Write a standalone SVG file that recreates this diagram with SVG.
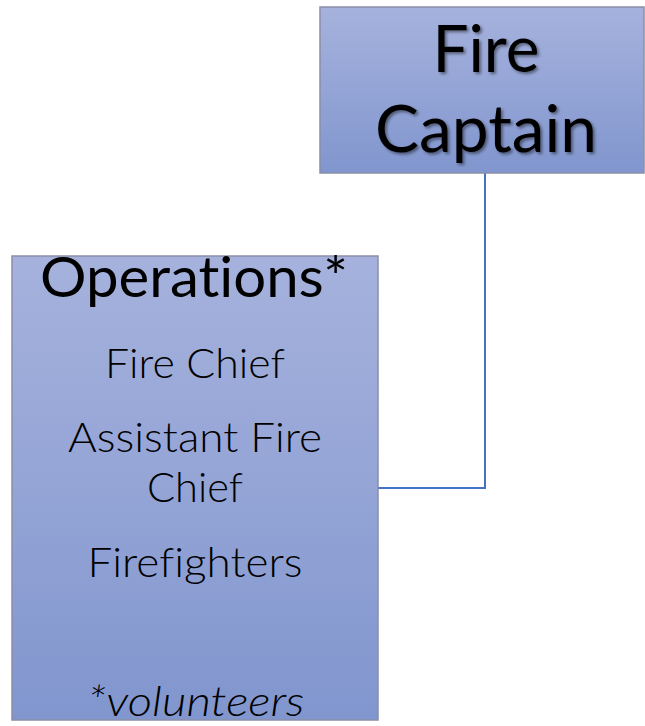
<svg xmlns="http://www.w3.org/2000/svg" width="645" height="726" viewBox="0 0 645 726">
<defs>
<linearGradient id="g" x1="0" y1="0" x2="0" y2="1">
<stop offset="0" stop-color="#A6B2DD"/>
<stop offset="1" stop-color="#8196CE"/>
</linearGradient>
<filter id="sh" x="-10%" y="-10%" width="130%" height="130%">
<feGaussianBlur in="SourceAlpha" stdDeviation="1.5"/>
<feOffset dx="2" dy="2" result="b"/>
<feFlood flood-color="#000" flood-opacity="0.45"/>
<feComposite in2="b" operator="in"/>
<feMerge><feMergeNode/><feMergeNode in="SourceGraphic"/></feMerge>
</filter>
</defs>
<style>
.box{fill:url(#g);stroke:#8A8FA8;stroke-width:1.5}
.t{font-family:Lato,"Open Sans",sans-serif;fill:#000;text-anchor:middle;font-variant-ligatures:none;font-feature-settings:"liga" 0,"dlig" 0}
.b{font-size:41px;font-weight:300}
.conn{fill:none;stroke:#4472C4;stroke-width:2}
</style>
<g id="connectors">
<path class="conn" d="M485,173 V488 H378"/>
</g>
<g id="fire-captain">
<rect class="box" x="320" y="7" width="324" height="166"/>
<text class="t" x="486" y="72" font-size="66" filter="url(#sh)" textLength="107" lengthAdjust="spacingAndGlyphs">Fire</text>
<text class="t" x="486" y="152" font-size="66" filter="url(#sh)" textLength="222" lengthAdjust="spacingAndGlyphs">Captain</text>
</g>
<g id="operations">
<rect class="box" x="12" y="256" width="366" height="464"/>
<text class="t" x="194" y="297" font-size="56" textLength="308" lengthAdjust="spacingAndGlyphs">Operations*</text>
<text class="t b" x="195" y="378" textLength="180" lengthAdjust="spacingAndGlyphs">Fire Chief</text>
<text class="t b" x="195" y="452" textLength="254" lengthAdjust="spacingAndGlyphs">Assistant Fire</text>
<text class="t b" x="195" y="502" textLength="96" lengthAdjust="spacingAndGlyphs">Chief</text>
<text class="t b" x="195" y="577" textLength="215" lengthAdjust="spacingAndGlyphs">Firefighters</text>
<text class="t b" x="196" y="716" font-style="italic" textLength="217" lengthAdjust="spacingAndGlyphs">*volunteers</text>
</g>
</svg>
